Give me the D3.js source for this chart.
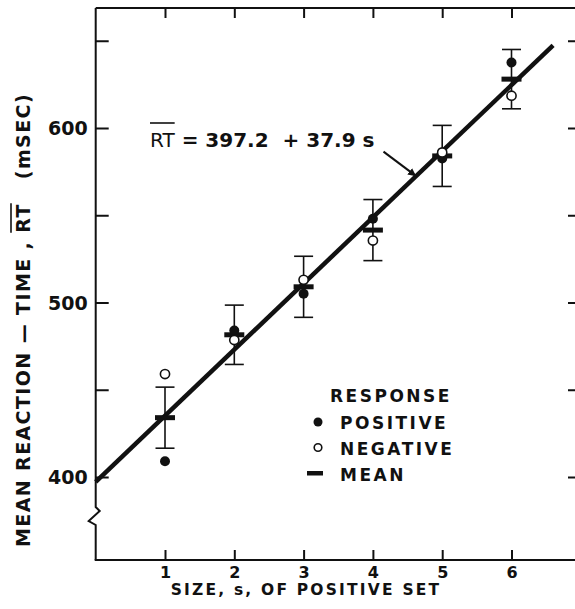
<!DOCTYPE html>
<html>
<head>
<meta charset="utf-8">
<script src="https://cdn.jsdelivr.net/npm/d3@7"></script>
<style>
  body { margin: 0; background: #fff; }
  svg text { font-family: "DejaVu Sans", sans-serif; font-weight: bold; fill: #111; white-space: pre; }
</style>
</head>
<body>
<script>
// set sizes and mean reaction times (msec)
const sizes = [1, 2, 3, 4, 5, 6];
const positiveRT = [409, 484, 505, 548, 582.5, 637.5];
const negativeRT = [459, 478.5, 513, 535.5, 586, 618.5];
const meanRT = [434, 481.5, 509, 541.5, 584, 628];
const errHalf = [17.5, 17, 17.5, 17.5, 17.5, 17];
const yTicks = [400, 450, 500, 550, 600, 650];
const yTickLabels = [400, 500, 600];
const fitA = 397.2, fitB = 37.9;

(function () {
  const W = 575, H = 609;
  const ink = "#111";

  const svg = d3.select("body").append("svg")
      .attr("width", W).attr("height", H);

  const x = d3.scaleLinear().domain([1, 6]).range([165, 511.5]);
  const y = d3.scaleLinear().domain([400, 600]).range([477, 128]);

  const frameL = x(0), frameT = 8, frameB = 560, frameR = 580;

  // frame: left axis with break, top and bottom lines
  svg.append("path")
      .attr("d", `M${frameL},${frameT} V507 l4,4 l-11,10 l7,4 V${frameB}`)
      .attr("fill", "none").attr("stroke", ink).attr("stroke-width", 2);
  svg.append("line").attr("x1", frameL).attr("x2", frameR).attr("y1", frameT).attr("y2", frameT)
      .attr("stroke", ink).attr("stroke-width", 2);
  svg.append("line").attr("x1", frameL - 1).attr("x2", frameR).attr("y1", frameB).attr("y2", frameB)
      .attr("stroke", ink).attr("stroke-width", 2);

  // left axis
  const yAxis = d3.axisLeft(y).tickValues(yTicks).tickSize(-13).tickPadding(8)
      .tickFormat(d => yTickLabels.includes(d) ? d : "");
  const gy = svg.append("g").attr("transform", `translate(${frameL},0)`).call(yAxis);
  gy.select(".domain").remove();
  gy.selectAll(".tick line").attr("stroke", ink).attr("stroke-width", 2);
  gy.selectAll(".tick text").style("font-size", "19px").attr("fill", ink).attr("dy", "0.36em");

  // right axis ticks (frame edge is off the picture)
  const yAxisR = d3.axisRight(y).tickValues(yTicks).tickSize(-12).tickFormat("");
  const gyr = svg.append("g").attr("transform", `translate(${frameR},0)`).call(yAxisR);
  gyr.select(".domain").remove();
  gyr.selectAll(".tick line").attr("stroke", ink).attr("stroke-width", 2);

  // bottom axis
  const xAxis = d3.axisBottom(x).tickValues(sizes).tickSize(-10).tickPadding(7)
      .tickFormat(d3.format("d"));
  const gx = svg.append("g").attr("transform", `translate(0,${frameB})`).call(xAxis);
  gx.select(".domain").remove();
  gx.selectAll(".tick line").attr("stroke", ink).attr("stroke-width", 2);
  gx.selectAll(".tick text").style("font-size", "16px").attr("fill", ink);

  // top axis ticks
  const xAxisT = d3.axisTop(x).tickValues(sizes).tickSize(-10).tickFormat("");
  const gxt = svg.append("g").attr("transform", `translate(0,${frameT})`).call(xAxisT);
  gxt.select(".domain").remove();
  gxt.selectAll(".tick line").attr("stroke", ink).attr("stroke-width", 2);

  // axis titles
  svg.append("text")
      .attr("x", 306).attr("y", 595)
      .attr("text-anchor", "middle")
      .style("font-size", "15.5px").style("letter-spacing", "2.2px")
      .text("SIZE, s, OF POSITIVE SET");

  function overline(textSel, i0, i1, lift) {
    const node = textSel.node();
    const a = node.getStartPositionOfChar(i0);
    const b = node.getEndPositionOfChar(i1);
    d3.select(node.parentNode).append("line")
        .attr("x1", a.x).attr("x2", b.x)
        .attr("y1", a.y - lift).attr("y2", a.y - lift)
        .attr("stroke", ink).attr("stroke-width", 1.6);
  }

  const yTitleG = svg.append("g").attr("transform", "translate(30,320) rotate(-90)");
  const yLabelStr = "MEAN REACTION \u2014 TIME , RT   (mSEC)";
  const yTitle = yTitleG.append("text")
      .attr("text-anchor", "middle")
      .style("font-size", "19px").style("letter-spacing", "1.4px")
      .text(yLabelStr);
  const rtIdx = yLabelStr.indexOf("RT");
  overline(yTitle, rtIdx, rtIdx + 1, 19);

  // error bars
  const capW = 19;
  const eb = svg.append("g").attr("stroke", ink).attr("stroke-width", 1.6);
  sizes.forEach((s, i) => {
    const cx = x(s), y1 = y(meanRT[i] + errHalf[i]), y2 = y(meanRT[i] - errHalf[i]);
    eb.append("line").attr("x1", cx).attr("x2", cx).attr("y1", y1).attr("y2", y2);
    eb.append("line").attr("x1", cx - capW / 2).attr("x2", cx + capW / 2).attr("y1", y1).attr("y2", y1);
    eb.append("line").attr("x1", cx - capW / 2).attr("x2", cx + capW / 2).attr("y1", y2).attr("y2", y2);
  });

  // fitted line
  const fitEnd = 6.6;
  svg.append("line")
      .attr("x1", x(0)).attr("y1", y(fitA))
      .attr("x2", x(fitEnd)).attr("y2", y(fitA + fitB * fitEnd))
      .attr("stroke", ink).attr("stroke-width", 4.5);

  // means
  svg.append("g").selectAll("rect").data(sizes).join("rect")
      .attr("x", d => x(d) - 10).attr("width", 20)
      .attr("y", (d, i) => y(meanRT[i]) - 2.5).attr("height", 5)
      .attr("fill", ink);

  // positive / negative points
  svg.append("g").selectAll("circle").data(sizes).join("circle")
      .attr("cx", d => x(d)).attr("cy", (d, i) => y(positiveRT[i]))
      .attr("r", 5).attr("fill", ink);
  svg.append("g").selectAll("circle").data(sizes).join("circle")
      .attr("cx", d => x(d)).attr("cy", (d, i) => y(negativeRT[i]))
      .attr("r", 4.6).attr("fill", "#fff").attr("stroke", ink).attr("stroke-width", 1.6);

  // equation with arrow
  const eq = svg.append("g").append("text").attr("x", 150).attr("y", 147).style("font-size", "20px");
  eq.append("tspan").style("font-weight", "normal").text("RT");
  eq.append("tspan").text(" = 397.2  + 37.9 s");
  overline(eq, 0, 1, 24);

  svg.append("defs").append("marker")
      .attr("id", "arr").attr("viewBox", "0 0 10 10")
      .attr("refX", 9).attr("refY", 5)
      .attr("markerWidth", 4).attr("markerHeight", 4)
      .attr("orient", "auto")
    .append("path").attr("d", "M0,0 L10,5 L0,10 Z").attr("fill", ink);
  const tipS = 4.6;
  const tx = x(tipS) + 1, ty = y(fitA + fitB * tipS) - 2;
  svg.append("line")
      .attr("x1", tx - 32).attr("y1", ty - 24).attr("x2", tx).attr("y2", ty)
      .attr("stroke", ink).attr("stroke-width", 2).attr("marker-end", "url(#arr)");

  // legend
  const lg = svg.append("g").style("font-size", "17px").style("letter-spacing", "2.5px");
  lg.append("text").attr("x", 330).attr("y", 402).text("RESPONSE");
  lg.append("text").attr("x", 340).attr("y", 429).text("POSITIVE");
  lg.append("text").attr("x", 340).attr("y", 455).text("NEGATIVE");
  lg.append("text").attr("x", 340).attr("y", 481).text("MEAN");
  lg.append("circle").attr("cx", 318).attr("cy", 422).attr("r", 4.5).attr("fill", ink);
  lg.append("circle").attr("cx", 318).attr("cy", 447.5).attr("r", 3.8)
      .attr("fill", "#fff").attr("stroke", ink).attr("stroke-width", 1.6);
  lg.append("rect").attr("x", 307).attr("y", 471).attr("width", 16).attr("height", 4.5).attr("fill", ink);
})();
</script>
</body>
</html>
